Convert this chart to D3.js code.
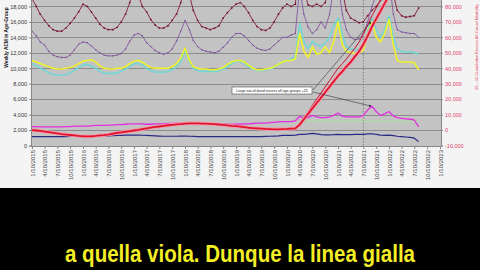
<!DOCTYPE html>
<html>
<head>
<meta charset="utf-8">
<script src="https://cdn.jsdelivr.net/npm/d3@7"></script>
<style>
  body { margin: 0; background: #000; }
  svg { display: block; }
</style>
</head>
<body>
<svg id="chart" width="480" height="270"></svg>
<script>
// monthly samples, Jan 2015 .. Aug 2022 (weekly deaths, thousands)
const maroon = [
  19.0, 18.0, 17.0, 16.2, 15.5, 15.0, 14.8, 14.8, 15.2, 15.8, 16.5, 17.3,
  18.3, 18.0, 17.3, 16.5, 15.7, 15.2, 15.0, 15.0, 15.3, 16.0, 17.0, 18.5,
  20.5, 19.5, 18.0, 17.3, 16.3, 15.6, 15.2, 15.2, 15.5, 16.2, 17.0, 18.5,
  20.5, 19.5, 17.5, 16.2, 15.4, 15.2, 15.0, 15.2, 15.5, 16.5, 17.2, 17.8,
  18.3, 18.5, 18.0, 17.2, 16.2, 15.4, 15.0, 14.9, 15.2, 16.0, 17.0, 17.8,
  18.3, 18.0, 18.3, 24.0, 20.0, 18.2, 18.0, 18.3, 18.0, 18.5, 20.5, 23.0,
  23.0, 20.0, 17.5, 16.5, 16.2, 15.9, 16.0, 16.8, 17.5, 18.0, 18.8, 21.0,
  24.0, 19.5, 17.5, 16.8, 16.6, 16.7, 16.8, 17.8
];
const purple = [
  14.8, 14.2, 13.4, 13.0, 12.2, 11.7, 11.5, 11.4, 11.4, 11.7, 12.4, 13.1,
  13.4, 13.3, 12.9, 12.4, 12.0, 11.7, 11.6, 11.6, 11.7, 11.9, 12.5, 13.5,
  14.3, 14.5, 14.2, 13.3, 12.8, 12.3, 12.0, 11.8, 12.0, 12.5, 13.5, 14.8,
  16.2, 15.0, 13.6, 12.8, 12.4, 12.2, 12.1, 12.0, 12.2, 12.7, 13.3, 14.0,
  14.5, 14.5, 14.2, 13.6, 13.0, 12.6, 12.4, 12.3, 12.5, 13.0, 13.5, 14.0,
  14.0, 14.3, 14.5, 20.5, 17.0, 15.3, 14.5, 15.0, 16.0, 15.2, 17.0, 20.5,
  21.0, 17.0, 15.0, 14.0, 13.7, 13.8, 14.5, 16.0, 18.0, 19.5, 19.5, 20.0,
  21.5, 17.0, 15.0, 14.7, 14.6, 14.5, 14.5, 14.0
];
const yellow = [
  11.0, 10.8, 10.6, 10.4, 10.2, 10.0, 9.9, 9.9, 10.0, 10.1, 10.3, 10.6,
  10.9, 11.0, 11.1, 10.8, 10.3, 10.0, 9.9, 9.9, 10.0, 10.0, 10.2, 10.6,
  10.9, 11.0, 10.8, 10.4, 10.1, 10.0, 10.0, 10.0, 10.0, 10.2, 10.6, 11.3,
  12.6, 11.0, 10.2, 10.0, 9.9, 9.9, 9.8, 9.8, 9.9, 10.1, 10.5, 10.8,
  11.0, 11.0, 10.8, 10.4, 10.0, 9.8, 9.8, 9.9, 10.0, 10.2, 10.5, 10.8,
  11.0, 11.0, 11.2, 14.5, 12.2, 11.4, 12.8, 11.8, 12.0, 12.8, 12.0, 13.5,
  16.0, 13.0, 12.2, 12.0, 11.9, 12.0, 12.3, 14.5, 16.0, 14.0, 13.4, 14.5,
  16.3, 13.0, 11.0, 10.8, 10.8, 10.8, 10.7, 9.8
];
const cyan = [
  10.6, 10.3, 10.0, 9.7, 9.4, 9.2, 9.1, 9.1, 9.2, 9.4, 9.7, 10.1,
  10.4, 10.5, 10.3, 10.0, 9.6, 9.4, 9.3, 9.3, 9.4, 9.6, 9.9, 10.2,
  10.6, 10.6, 10.4, 10.0, 9.7, 9.5, 9.5, 9.5, 9.6, 9.8, 10.2, 10.8,
  12.3, 10.8, 10.0, 9.7, 9.6, 9.6, 9.6, 9.6, 9.7, 9.9, 10.2, 10.6,
  10.9, 10.9, 10.6, 10.2, 9.9, 9.7, 9.7, 9.8, 9.9, 10.1, 10.4, 10.8,
  11.0, 11.2, 11.5, 15.8, 13.5, 12.5, 13.5, 13.0, 12.8, 13.3, 14.0, 15.5,
  16.5, 14.2, 12.8, 12.5, 12.4, 12.4, 12.8, 14.8, 16.5, 15.0, 14.0, 15.0,
  16.8, 14.0, 12.5, 12.2, 12.1, 12.1, 12.0, 11.8
];
const magenta = [
  2.45, 2.45, 2.4, 2.4, 2.4, 2.4, 2.4, 2.4, 2.45, 2.45, 2.5, 2.5,
  2.5, 2.5, 2.55, 2.6, 2.6, 2.6, 2.65, 2.65, 2.7, 2.7, 2.75, 2.8,
  2.8, 2.8, 2.8, 2.75, 2.75, 2.8, 2.8, 2.8, 2.85, 2.85, 2.9, 2.9,
  2.95, 2.9, 2.85, 2.8, 2.8, 2.8, 2.8, 2.8, 2.8, 2.8, 2.75, 2.75,
  2.75, 2.75, 2.8, 2.8, 2.85, 2.9, 2.9, 2.9, 2.95, 3.0, 3.05, 3.1,
  3.1, 3.1, 3.2, 3.75, 3.6, 3.6, 3.9, 3.7, 3.6, 3.6, 3.7, 3.9,
  4.2, 3.8, 3.7, 3.7, 3.7, 3.7, 3.9, 4.6, 5.1, 4.4, 3.9, 4.1,
  4.4, 3.8, 3.6, 3.5, 3.45, 3.4, 3.3, 2.4
];
const navy = [
  1.15, 1.15, 1.15, 1.15, 1.15, 1.15, 1.15, 1.15, 1.15, 1.18, 1.2, 1.2,
  1.22, 1.22, 1.22, 1.2, 1.2, 1.22, 1.25, 1.28, 1.3, 1.32, 1.35, 1.35,
  1.35, 1.35, 1.33, 1.3, 1.28, 1.25, 1.22, 1.2, 1.2, 1.2, 1.2, 1.22,
  1.22, 1.2, 1.18, 1.15, 1.15, 1.14, 1.14, 1.14, 1.14, 1.14, 1.14, 1.14,
  1.14, 1.14, 1.15, 1.15, 1.15, 1.15, 1.16, 1.18, 1.2, 1.22, 1.25, 1.3,
  1.32, 1.32, 1.35, 1.45, 1.45, 1.5, 1.58, 1.5, 1.4, 1.38, 1.38, 1.4,
  1.45, 1.42, 1.42, 1.42, 1.45, 1.45, 1.45, 1.5, 1.52, 1.45, 1.35, 1.3,
  1.35, 1.27, 1.2, 1.15, 1.1, 1.06, 0.95, 0.5
];
// 25-44 cumulative excess (right axis, thousands)
const excess = [
  0, -0.3, -0.6, -1.0, -1.4, -1.8, -2.2, -2.6, -2.9, -3.2, -3.5, -3.8,
  -4.0, -4.1, -4.0, -3.8, -3.5, -3.3, -2.9, -2.4, -1.9, -1.5, -1.1, -0.7,
  -0.3, 0.1, 0.6, 1.1, 1.6, 2.0, 2.3, 2.7, 3.1, 3.4, 3.7, 3.9,
  4.2, 4.3, 4.3, 4.3, 4.2, 4.1, 4.0, 3.8, 3.6, 3.3, 3.0, 2.7,
  2.5, 2.2, 1.9, 1.5, 1.3, 1.1, 0.9, 0.7, 0.6, 0.5, 0.5, 0.6,
  0.7, 0.9, 1.1, 3.5, 7.0, 10.5, 14.0, 17.5, 21.0, 24.5, 28.0, 31.5,
  35.0, 38.0, 41.0, 44.0, 47.5, 51.0, 55.5, 61.0, 67.0, 72.0, 77.0, 82.0,
  87.0, 91.0, 94.0, 96.0, 98.0, 100.0, 102.0, 104.0
];
// second cumulative line, from Mar 2020
const excessHigh = [
  1.1, 4.0, 8.0, 12.0, 16.0, 20.0, 24.0, 28.0, 32.0, 36.0,
  40.0, 43.0, 46.0, 49.5, 53.0, 57.0, 62.0, 68.0, 74.0, 79.0, 84.0, 89.0,
  94.0, 98.0, 101.0, 103.0, 105.0, 107.0, 109.0, 111.0
];
// light green band line, from Apr 2020
const green = [
  3.1, 3.1, 3.15, 3.1, 3.1, 3.1, 3.15, 3.1, 3.1,
  3.1, 3.15, 3.1, 3.1, 3.1, 3.1, 3.15, 3.1, 3.1, 3.1, 3.1, 3.15,
  3.1, 3.1, 3.1, 3.05, 3.1, 3.1, 3.1, 3.05
];

const leftTicks = [0, 2, 4, 6, 8, 10, 12, 14, 16, 18];
const leftTickLabels = ["0", "2,000", "4,000", "6,000", "8,000", "10,000", "12,000", "14,000", "16,000", "18,000"];
const gridTicks = [0, 2, 4, 6, 8, 10, 12, 14, 16, 18, 20];
const rightTicks = [-10, 0, 10, 20, 30, 40, 50, 60, 70, 80];
const rightTickLabels = ["-10,000", "0", "10,000", "20,000", "30,000", "40,000", "50,000", "60,000", "70,000", "80,000"];
const xTickLabels = [
  "1/10/2015", "4/10/2015", "7/10/2015", "10/10/2015",
  "1/10/2016", "4/10/2016", "7/10/2016", "10/10/2016",
  "1/10/2017", "4/10/2017", "7/10/2017", "10/10/2017",
  "1/10/2018", "4/10/2018", "7/10/2018", "10/10/2018",
  "1/10/2019", "4/10/2019", "7/10/2019", "10/10/2019",
  "1/10/2020", "4/10/2020", "7/10/2020", "10/10/2020",
  "1/10/2021", "4/10/2021", "7/10/2021", "10/10/2021",
  "1/10/2022", "4/10/2022", "7/10/2022", "10/10/2022",
  "1/10/2023"
];

const parse = d3.timeParse("%m/%d/%Y");
const months = d3.range(maroon.length).map(i => d3.timeMonth.offset(new Date(2015, 0, 10), i));
const tickDates = xTickLabels.map(parse);

const svg = d3.select("#chart");
const plot = { left: 31, right: 441, top: -9, bottom: 146 };

const x = d3.scaleTime()
  .domain([tickDates[0], tickDates[tickDates.length - 1]])
  .range([32, 440]);
const yL = d3.scaleLinear().domain([0, 20]).range([145.5, -9]);
const yR = d3.scaleLinear().domain([-10, 90]).range([145.5, -9]);

// backgrounds
svg.append("rect").attr("width", 480).attr("height", 188).attr("fill", "#f4f4f4");
svg.append("rect").attr("y", 188).attr("width", 480).attr("height", 82).attr("fill", "#000");

svg.append("defs").append("clipPath").attr("id", "clip")
  .append("rect")
  .attr("x", plot.left).attr("y", plot.top)
  .attr("width", plot.right - plot.left).attr("height", plot.bottom - plot.top);

svg.append("rect")
  .attr("x", plot.left).attr("y", plot.top)
  .attr("width", plot.right - plot.left).attr("height", plot.bottom - plot.top)
  .attr("fill", "#c3c3c3");

// gridlines
svg.append("g").selectAll("line")
  .data(gridTicks)
  .join("line")
  .attr("x1", plot.left).attr("x2", plot.right)
  .attr("y1", d => Math.round(yL(d)) + 0.5).attr("y2", d => Math.round(yL(d)) + 0.5)
  .attr("stroke", "#8c8c8c").attr("stroke-width", 1);

// dashed marker at 7/10/2021
svg.append("line")
  .attr("x1", x(parse("7/10/2021"))).attr("x2", x(parse("7/10/2021")))
  .attr("y1", plot.top).attr("y2", plot.bottom)
  .attr("stroke", "#6a6a6a").attr("stroke-width", 0.8).attr("stroke-dasharray", "1.5,1.5");

const g = svg.append("g").attr("clip-path", "url(#clip)");

const lineL = d3.line().x(d => x(d.date)).y(d => yL(d.v));
const lineR = d3.line().x(d => x(d.date)).y(d => yR(d.v));
const pts = (arr, offset) => arr.map((v, i) => ({ date: months[i + offset], v }));

function drawLine(data, gen, color, width) {
  g.append("path")
    .datum(data)
    .attr("d", gen)
    .attr("fill", "none")
    .attr("stroke", color)
    .attr("stroke-width", width)
    .attr("stroke-linejoin", "round");
}

drawLine(pts(maroon, 0), lineL, "#8a2848", 1);
g.selectAll(".mdot").data(pts(maroon, 0)).join("circle")
  .attr("cx", d => x(d.date)).attr("cy", d => yL(d.v)).attr("r", 0.9).attr("fill", "#6e1232");
drawLine(pts(purple, 0), lineL, "#8c62a6", 1);
g.selectAll(".pdot").data(pts(purple, 0)).join("circle")
  .attr("cx", d => x(d.date)).attr("cy", d => yL(d.v)).attr("r", 0.7).attr("fill", "#76488f");
drawLine(pts(cyan, 0), lineL, "#72d6d2", 1.6);
drawLine(pts(yellow, 0), lineL, "#eef22a", 1.6);
drawLine(pts(green, 63), lineL, "#a6e6a0", 1);
drawLine(pts(navy, 0), lineL, "#2a2a86", 1.2);
drawLine(pts(magenta, 0), lineL, "#e22ee0", 1.3);
drawLine(pts(excessHigh, 62), lineR, "#c8102e", 1);
drawLine(pts(excess, 0), lineR, "#f39aac", 3.6);
drawLine(pts(excess, 0), lineR, "#e0142e", 1.8);

// axes
const axisFont = "Liberation Sans, Arial, sans-serif";
const leftAxis = svg.append("g")
  .attr("transform", `translate(${plot.left},0)`)
  .call(d3.axisLeft(yL).tickValues(leftTicks).tickFormat((d, i) => leftTickLabels[i]).tickSize(2).tickPadding(2));
leftAxis.select(".domain").attr("stroke", "#888");
leftAxis.selectAll(".tick line").attr("stroke", "#888");
leftAxis.selectAll("text").attr("font-size", 5.5).attr("font-family", axisFont).attr("fill", "#333");

const rightAxis = svg.append("g")
  .attr("transform", `translate(${plot.right},0)`)
  .call(d3.axisRight(yR).tickValues(rightTicks).tickFormat((d, i) => rightTickLabels[i]).tickSize(2).tickPadding(2));
rightAxis.select(".domain").attr("stroke", "#888");
rightAxis.selectAll(".tick line").attr("stroke", "#888");
rightAxis.selectAll("text").attr("font-size", 5.5).attr("font-family", axisFont).attr("fill", "#e0406a");

const xAxis = svg.append("g")
  .attr("transform", `translate(0,${plot.bottom})`)
  .call(d3.axisBottom(x).tickValues(tickDates).tickFormat((d, i) => xTickLabels[i]).tickSize(3));
xAxis.select(".domain").attr("stroke", "#888");
xAxis.selectAll(".tick line").attr("stroke", "#888");
xAxis.selectAll("text")
  .attr("transform", "rotate(-90)")
  .attr("x", -4).attr("y", 0).attr("dy", "0.35em")
  .attr("text-anchor", "end")
  .attr("font-size", 6).attr("font-family", axisFont).attr("fill", "#444");

// axis titles
svg.append("text")
  .attr("transform", "translate(6,37.5) rotate(-90)")
  .attr("text-anchor", "middle").attr("dy", "0.35em")
  .attr("font-family", axisFont).attr("font-weight", "bold").attr("font-size", 4.8).attr("fill", "#222")
  .text("Weekly ACM in Age-Group");
svg.append("text")
  .attr("transform", "translate(477,90) rotate(-90)")
  .attr("text-anchor", "start").attr("dy", "0.35em")
  .attr("font-family", axisFont).attr("font-size", 4.2).attr("fill", "#e0385c")
  .text("25 - 44 Cumulative Excess All-Cause Mortality");

// annotation
const defs = svg.select("defs");
defs.append("marker").attr("id", "arrow")
  .attr("viewBox", "0 0 6 6").attr("refX", 5).attr("refY", 3)
  .attr("markerWidth", 4).attr("markerHeight", 4).attr("orient", "auto")
  .append("path").attr("d", "M0,0L6,3L0,6Z").attr("fill", "#222");

const boxX = 232, boxY = 87, boxW = 80, boxH = 7;
svg.append("rect").attr("x", boxX).attr("y", boxY).attr("width", boxW).attr("height", boxH)
  .attr("fill", "#fff").attr("stroke", "#333").attr("stroke-width", 0.5);
svg.append("text").attr("x", boxX + boxW / 2).attr("y", boxY + boxH / 2).attr("dy", "0.35em")
  .attr("text-anchor", "middle").attr("font-family", axisFont).attr("font-size", 3.6).attr("fill", "#222")
  .text("Large out-of-band excess all age-groups +25");

const peak = 80; // Sep 2021
[[yellow[peak], boxY + 3], [magenta[peak], boxY + 5]].forEach(([v, sy]) => {
  svg.append("line")
    .attr("x1", boxX + boxW + 1).attr("y1", sy)
    .attr("x2", x(months[peak]) - 1).attr("y2", yL(v))
    .attr("stroke", "#333").attr("stroke-width", 0.6)
    .attr("marker-end", "url(#arrow)");
});

// caption
svg.append("text")
  .attr("x", 240).attr("y", 262)
  .attr("text-anchor", "middle")
  .attr("font-family", "Liberation Sans Narrow, Arial Narrow, sans-serif")
  .attr("font-weight", "bold").attr("font-size", 23)
  .attr("textLength", 350).attr("lengthAdjust", "spacingAndGlyphs")
  .attr("fill", "#f4ee24")
  .text("a quella viola. Dunque la linea gialla");
</script>
</body>
</html>
